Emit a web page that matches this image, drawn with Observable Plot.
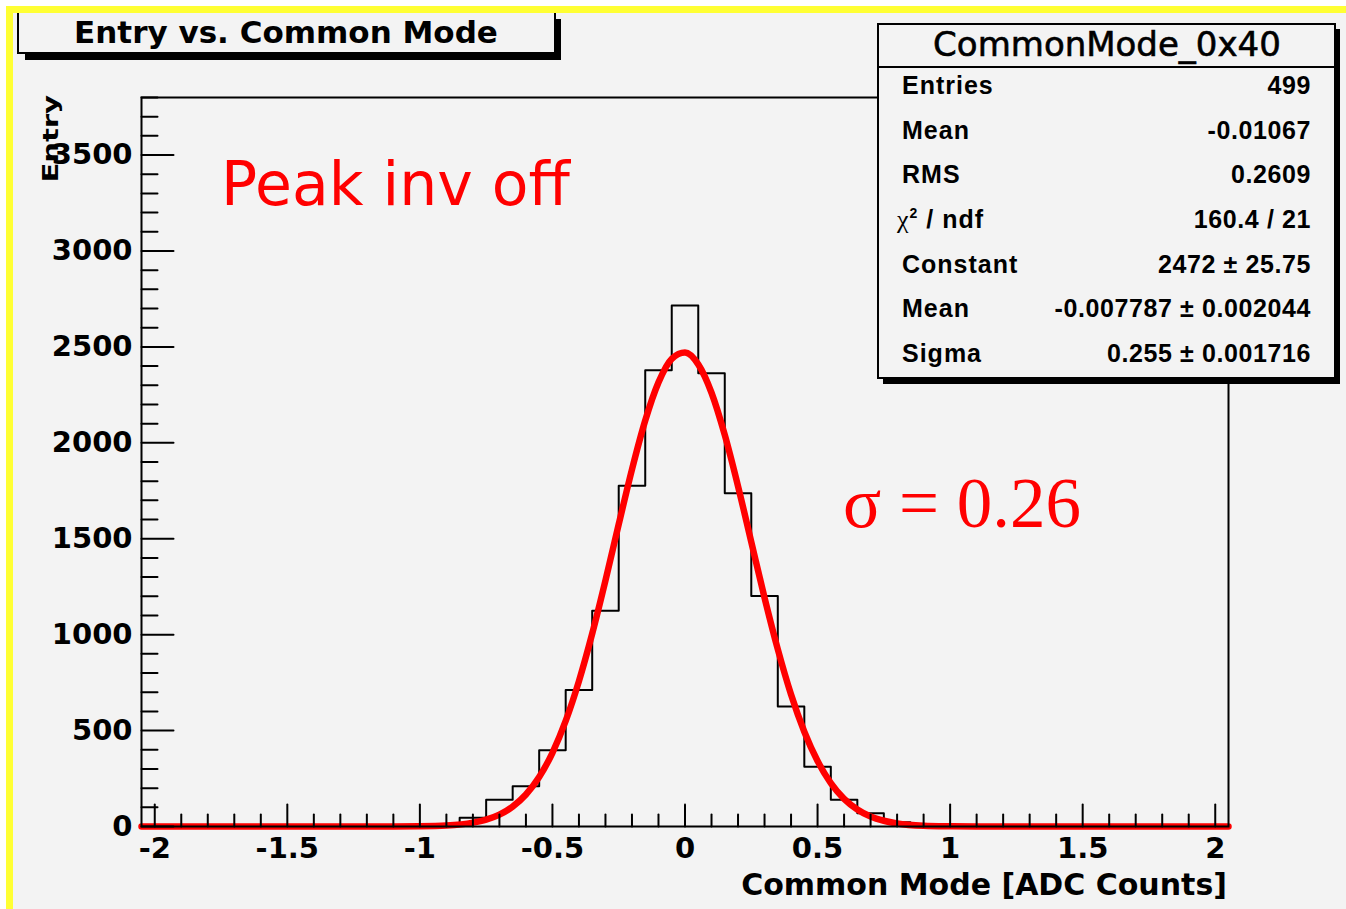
<!DOCTYPE html>
<html><head><meta charset="utf-8">
<script src="https://cdn.jsdelivr.net/npm/d3@7"></script>
<script src="https://cdn.jsdelivr.net/npm/@observablehq/plot@0.6"></script>
<style>
html,body{margin:0;padding:0;background:#fff;}
#chart{position:relative;width:1346px;height:909px;overflow:hidden;}
</style></head><body><div id="chart"></div>
<script>
// ---- data ----
const binCenters = [-1.0,-0.9,-0.8,-0.7,-0.6,-0.5,-0.4,-0.3,-0.2,-0.1,0.0,0.1,0.2,0.3,0.4,0.5,0.6,0.7,0.8,0.9,1.0];
const binCounts  = [0,8,45,139,210,397,711,1124,1776,2378,2716,2363,1737,1201,626,311,139,69,22,5,0];
const binWidth = 0.1;
const xRange = [-2.05, 2.05];
const yRange = [0, 3800];

const fitX = [-2.05,-1.1,-1.0,-0.9,-0.8,-0.75,-0.7,-0.65,-0.6,-0.55,-0.5,-0.45,-0.4,-0.35,-0.3,-0.25,-0.2,-0.15,-0.1,-0.05,0,0.05,0.1,0.15,0.2,0.25,0.3,0.35,0.4,0.45,0.5,0.55,0.6,0.65,0.7,0.75,0.8,0.9,1.0,1.1,2.05];
const fitY = [0,0,1,5,20,36,62,104,167,258,384,550,758,1005,1282,1575,1861,2116,2315,2438,2471,2409,2261,2041,1774,1483,1193,924,688,494,341,226,144,89,52,30,16,4,1,0,0];

const xTickValues = [-2,-1.5,-1,-0.5,0,0.5,1,1.5,2];
const xTickLabels = ["-2","-1.5","-1","-0.5","0","0.5","1","1.5","2"];
const yTickValues = [0,500,1000,1500,2000,2500,3000,3500];
const yTickLabels = ["0","500","1000","1500","2000","2500","3000","3500"];

const titleText = "Entry vs. Common Mode";
const xTitle = "Common Mode [ADC Counts]";
const yTitle = "Entry";
const statsTitle = "CommonMode_0x40";
const statsNames = ["Entries","Mean","RMS","CHI","Constant","Mean","Sigma"];
const statsValues = ["499","-0.01067","0.2609","160.4 / 21","2472 \u00b1 25.75","-0.007787 \u00b1 0.002044","0.255 \u00b1 0.001716"];
const note1 = "Peak inv off";
const note2 = "\u03c3 = 0.26";

// ---- derived tables ----
const histPts = [{x: xRange[0], y: 0}];
binCenters.forEach((c, i) => histPts.push({x: c - binWidth / 2, y: binCounts[i]}));
histPts.push({x: binCenters[binCenters.length - 1] + binWidth / 2, y: 0});
histPts.push({x: xRange[1], y: 0});
const fitPts = fitX.map((x, i) => ({x, y: fitY[i]}));

const xMinor = d3.range(-20, 21).filter(i => i % 5 !== 0).map(i => i / 10);
const yMinor = d3.range(1, 39).filter(i => i % 5 !== 0).map(i => i * 100);

const spike = {draw(ctx, l) { ctx.moveTo(0, 0); ctx.lineTo(0, -l); }};
const tickOpts = {anchor: "start", shape: spike, stroke: "black", strokeWidth: 2};

const plot = Plot.plot({
  width: 1346, height: 909,
  marginLeft: 141, marginRight: 118, marginTop: 97, marginBottom: 83,
  x: {domain: xRange, axis: null},
  y: {domain: yRange, axis: null},
  style: {background: "transparent", fontFamily: "DejaVu Sans", fontWeight: "bold", color: "black", overflow: "visible"},
  marks: [
    Plot.line(histPts, {x: "x", y: "y", curve: "step-after", stroke: "black", strokeWidth: 2}),
    Plot.line(fitPts, {x: "x", y: "y", curve: "monotone-x", stroke: "#ff0000", strokeWidth: 6.5}),
    Plot.vector(yTickValues, {...tickOpts, x: () => xRange[0], y: d => d, rotate: 90, length: 32}),
    Plot.vector(yMinor, {...tickOpts, x: () => xRange[0], y: d => d, rotate: 90, length: 16}),
    Plot.vector(xTickValues, {...tickOpts, x: d => d, y: () => yRange[0], rotate: 0, length: 22}),
    Plot.vector(xMinor, {...tickOpts, x: d => d, y: () => yRange[0], rotate: 0, length: 12}),
    Plot.frame({stroke: "black", strokeWidth: 2}),
    Plot.axisY(yTickValues, {anchor: "left", tickSize: 0, tickPadding: 9, tickFormat: (d) => yTickLabels[yTickValues.indexOf(d)], fontSize: 29, fontWeight: "bold", label: null}),
    Plot.axisX(xTickValues, {anchor: "bottom", tickSize: 0, tickPadding: 11, tickFormat: (d) => xTickLabels[xTickValues.indexOf(d)], fontSize: 29, fontWeight: "bold", label: null})
  ]
});

const svg = d3.select(plot);
svg.insert("rect", "g").attr("x", 13).attr("y", 13).attr("width", 1346).attr("height", 909).attr("fill", "#f3f3f3");

function txt(x, y, anchor, family, weight, size, fill, s) {
  return svg.append("text").attr("x", x).attr("y", y).attr("text-anchor", anchor)
    .attr("font-family", family).attr("font-weight", weight).attr("font-size", size).attr("fill", fill).text(s);
}

// axis titles
txt(1227, 895, "end", "DejaVu Sans", "bold", 30, "black", xTitle);
svg.append("text").attr("transform", "translate(58,95) rotate(-90) scale(1.32,1)").attr("text-anchor", "end")
  .attr("font-family", "DejaVu Sans").attr("font-weight", "bold").attr("font-size", 22).attr("fill", "black").text(yTitle);

// annotations
txt(221, 205, "start", "DejaVu Sans", "normal", 60, "#ff0000", note1);
txt(843, 527, "start", "Liberation Serif", "normal", 71, "#ff0000", note2);

// title box
svg.append("rect").attr("x", 25).attr("y", 19).attr("width", 536).attr("height", 41).attr("fill", "black");
svg.append("rect").attr("x", 18).attr("y", 8).attr("width", 537).attr("height", 45).attr("fill", "#f3f3f3").attr("stroke", "black").attr("stroke-width", 2);
txt(286, 43, "middle", "DejaVu Sans", "bold", 31, "black", titleText);

// stats box
svg.append("rect").attr("x", 883).attr("y", 29).attr("width", 457).attr("height", 355).attr("fill", "black");
svg.append("rect").attr("x", 878).attr("y", 24).attr("width", 457).attr("height", 354).attr("fill", "#f3f3f3").attr("stroke", "black").attr("stroke-width", 2);
svg.append("line").attr("x1", 878).attr("x2", 1335).attr("y1", 67).attr("y2", 67).attr("stroke", "black").attr("stroke-width", 2);
txt(1107, 56, "middle", "DejaVu Sans", "normal", 34, "black", statsTitle).attr("stroke", "black").attr("stroke-width", 0.6);
statsNames.forEach((name, i) => {
  const y = 94 + i * 44.67;
  const t = txt(902, y, "start", "Liberation Sans", "bold", 25, "black", null).attr("letter-spacing", 1);
  if (name === "CHI") {
    t.attr("x", 897);
    t.append("tspan").attr("font-family", "Liberation Serif").attr("font-weight", "normal").attr("font-size", 26).text("\u03c7");
    t.append("tspan").attr("dy", -10).attr("font-size", 14).text("2");
    t.append("tspan").attr("dy", 10).text(" / ndf");
  } else {
    t.text(name);
  }
  txt(1311, y, "end", "Liberation Sans", "bold", 25, "black", statsValues[i]).attr("letter-spacing", 0.6);
});

// yellow border
svg.append("rect").attr("x", 6).attr("y", 6).attr("width", 1346).attr("height", 7).attr("fill", "#ffff33");
svg.append("rect").attr("x", 6).attr("y", 6).attr("width", 7).attr("height", 909).attr("fill", "#ffff33");

document.getElementById("chart").appendChild(plot);
</script></body></html>
